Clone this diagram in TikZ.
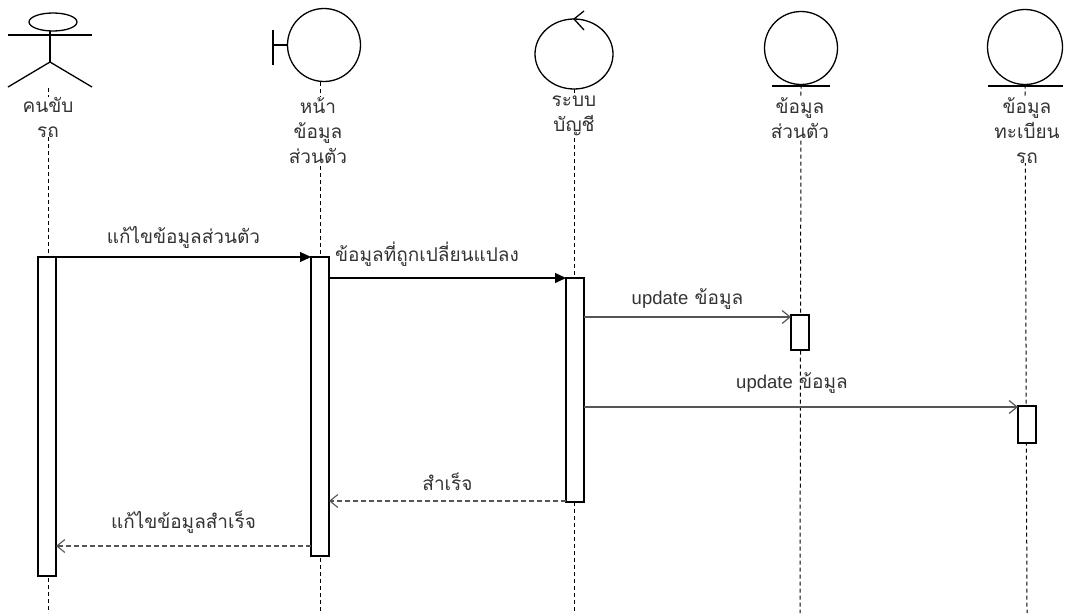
\documentclass[tikz,border=0pt]{standalone}
\usepackage{fontspec}
\setmainfont{Liberation Sans}
\newfontfamily\thai[Script=Thai]{Loma}
\usetikzlibrary{arrows.meta,shapes.geometric,calc}
\definecolor{txt}{HTML}{333333}
\definecolor{msg}{HTML}{555555}
\tikzset{
  sym/.style={draw=black,line width=1.3pt,inner sep=0pt,outer sep=0pt},
  life/.style={draw=black,line width=1pt,dash pattern=on 4pt off 3pt},
  actbox/.style={draw=black,fill=white,line width=1.1pt,inner sep=0pt,outer sep=0pt,minimum width=18pt,anchor=north west},
  lbl/.style={text=txt,font=\thai\fontsize{19}{25}\selectfont,align=center,anchor=north,fill=white,inner sep=0pt},
  mlbl/.style={text=txt,font=\thai\fontsize{19}{22}\selectfont,inner sep=1pt},
  sync/.style={draw=black,line width=1.1pt,-{Triangle[length=11pt,width=10pt]}},
  async/.style={draw=msg,line width=1.2pt,-{Straight Barb[length=8pt,width=13pt]}},
  reply/.style={draw=msg,line width=1.1pt,dash pattern=on 5pt off 3pt,-{Straight Barb[length=8pt,width=13pt]}}
}
\newcommand\lat[1]{{\fontspec{Liberation Sans}\fontsize{18.5}{22}\selectfont #1}}
\begin{document}
\begin{tikzpicture}[x=1pt,y=-1pt]
\useasboundingbox (0,0) rectangle (1067,613);
% ---- actor
\node[sym,ellipse,minimum width=48pt,minimum height=18pt] (head) at (53,22) {};
\coordinate (neck) at (50,31);
\coordinate (hip) at (50,62);
\coordinate (armL) at (8,35);
\coordinate (armR) at (92,35);
\coordinate (legL) at (8,87);
\coordinate (legR) at (92,87);
\draw[line width=1.3pt] (armL) -- (armR);
\draw[line width=1.3pt] (neck) -- (hip);
\draw[line width=1.3pt] (legL) -- (hip) -- (legR);
\coordinate (actTop) at (48,88);
\coordinate (actBot) at (48,613);
% ---- boundary
\node[sym,circle,minimum size=73pt] (bnd) at (324,45) {};
\coordinate (bT1) at (273,30);
\coordinate (bT2) at (273,65);
\draw[line width=1.3pt] (bT1) -- (bT2);
\draw[line width=1.3pt] (bT1 |- bnd.west) -- (bnd.west);
\coordinate (bndTop) at (320,82);
\coordinate (bndBot) at (320,613);
% ---- control
\node[sym,ellipse,minimum width=78pt,minimum height=70pt] (ctl) at (574,54) {};
\coordinate (cA) at (584,11);
\coordinate (cB) at (584,30);
\draw[line width=1.3pt] (cA) -- (ctl.north) -- (cB);
\coordinate (ctlBot) at (574,613);
% ---- entity 1
\node[sym,circle,minimum size=73pt] (ent1) at (801,48) {};
\coordinate (e1L) at (772,86);
\coordinate (e1R) at (830,86);
\draw[line width=1.3pt] (e1L) -- (e1R);
\coordinate (ent1Bot) at (800,613);
% ---- entity 2
\node[sym,circle,minimum size=75pt] (ent2) at (1025,47) {};
\coordinate (e2L) at (988,86);
\coordinate (e2R) at (1063,86);
\draw[line width=1.3pt] (e2L) -- (e2R);
\coordinate (ent2Bot) at (1027,613);
% ---- lifelines
\draw[life] (actTop) -- (actBot);
\draw[life] (bndTop) -- (bndBot);
\draw[life] (ctl.south) -- (ctlBot);
\draw[life] (ent1.south) -- (ent1Bot);
\draw[life] (ent2.south) -- (ent2Bot);
% ---- labels
\node[lbl] (lA) at (48,97) {คนขับ\\รถ};
\node[lbl] (lB) at (318,97) {หน้า\\ข้อมูล\\ส่วนตัว};
\node[lbl] (lC) at (574,96) {ระบบ\\บัญชี};
\node[lbl] (lD) at (800,97) {ข้อมูล\\ส่วนตัว};
\node[lbl] (lE) at (1027,97) {ข้อมูล\\ทะเบียน\\รถ};
% ---- activation boxes
\node[actbox,minimum height=319pt] (A1) at (38,257) {};
\node[actbox,minimum height=299pt] (B1) at (311,257) {};
\node[actbox,minimum height=224pt] (C1) at (566,278) {};
\node[actbox,minimum height=35pt] (D1) at (791,315) {};
\node[actbox,minimum height=37pt] (E1) at (1018,406) {};
% ---- messages
\draw[sync] (A1.north east) -- (B1.north west)
  node[mlbl,midway,above=7pt] (m1) {แก้ไขข้อมูลส่วนตัว};
\draw[sync] (B1.east |- C1.north west) -- (C1.north west);
\node[mlbl,anchor=south west] (m2) at ($(B1.north east)+(5,11)$) {ข้อมูลที่ถูกเปลี่ยนแปลง};
\draw[async] ($(C1.east |- D1.north)+(0,2)$) -- ($(D1.north west)+(0,2)$)
  node[mlbl,midway,above=6pt] (m3) {\lat{update} ข้อมูล};
\draw[async] ($(C1.east |- E1.north)+(0,1)$) -- ($(E1.north west)+(0,1)$);
\node[mlbl,anchor=south] (m4) at ($(C1.east |- E1.north)+(208,-11)$) {\lat{update} ข้อมูล};
\draw[reply] ($(C1.south west)+(0,-1)$) -- ($(C1.south west -| B1.east)+(0,-1)$)
  node[mlbl,midway,above=9pt] (m5) {สำเร็จ};
\coordinate (r6) at ($(B1.south west)+(0,-10)$);
\draw[reply] (r6) -- (r6 -| A1.east)
  node[mlbl,midway,above=11pt] (m6) {แก้ไขข้อมูลสำเร็จ};
\end{tikzpicture}
\end{document}
